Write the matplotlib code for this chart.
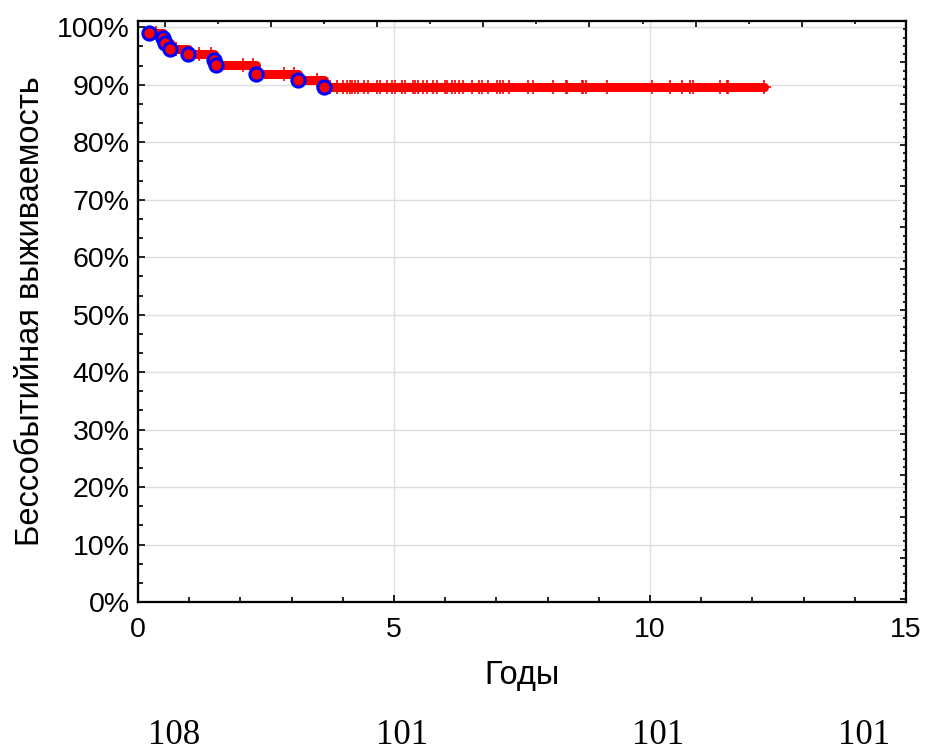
import numpy as np
import matplotlib
matplotlib.use("Agg")
import matplotlib.pyplot as plt
from matplotlib.ticker import MultipleLocator, FuncFormatter

# events (years, survival %)
event_years = [0.22, 0.49, 0.53, 0.62, 0.98, 1.48, 1.53, 2.30, 3.12, 3.63]
event_surv = [99.1, 98.2, 97.2, 96.2, 95.4, 94.4, 93.4, 91.9, 90.9, 89.6]

# censored observations (years)
censor_years = [
    0.35, 0.75, 1.20, 1.42, 2.05, 2.25, 2.85, 3.05, 3.50,
    3.75, 3.88, 4.01, 4.08, 4.14, 4.17, 4.24, 4.29, 4.42, 4.50,
    4.66, 4.73, 4.86, 4.97, 5.02, 5.15, 5.21, 5.38, 5.41, 5.47,
    5.57, 5.64, 5.77, 5.83, 6.00, 6.03, 6.13, 6.19, 6.26, 6.35,
    6.52, 6.65, 6.71, 6.84, 7.01, 7.07, 7.13, 7.25, 7.61, 7.72,
    8.11, 8.36, 8.38, 8.67, 8.70, 8.75, 9.15, 10.03, 10.39, 10.62,
    10.78, 10.84, 11.37, 11.50, 11.53, 12.23,
]
last_year = 12.23

# number at risk shown under the plot
risk_years = [0, 5, 10, 15]
risk_counts = ["108", "101", "101", "101"]

plt.rcParams["font.family"] = ["Liberation Sans", "DejaVu Sans"]

fig = plt.figure(figsize=(9.25, 7.53), dpi=100)
ax = fig.add_axes([0.1492, 0.2005, 0.8303, 0.7716])

line_x = event_years + [last_year]
line_y = event_surv + [event_surv[-1]]
ax.plot(line_x, line_y, drawstyle="steps-post", color="red", lw=6.5,
        solid_joinstyle="round", solid_capstyle="round", zorder=3)

# survival value at each censored time
idx = np.searchsorted(event_years, censor_years, side="right") - 1
cens_y = [event_surv[i] if i >= 0 else 100 for i in idx]
ax.plot(censor_years, cens_y, ls="none", marker="+", ms=10, mew=1.2,
        color="red", zorder=4)
ax.plot(event_years, event_surv, ls="none", marker="+", ms=10, mew=1.2,
        color="red", zorder=4)
ax.plot(event_years, event_surv, ls="none", marker="o", ms=9.5, mew=2.2,
        mfc="red", mec="blue", zorder=5)

ax.set_xlim(0, 15)
ax.set_ylim(0, 101.1)
ax.xaxis.set_major_locator(MultipleLocator(5))
ax.xaxis.set_minor_locator(MultipleLocator(1))
ax.yaxis.set_major_locator(MultipleLocator(10))
ax.yaxis.set_minor_locator(MultipleLocator(10 / 3))
ax.yaxis.set_major_formatter(FuncFormatter(lambda v, p: f"{v:.0f}%"))
ax.grid(True, which="major", color="#dedede", lw=1.0)
ax.set_axisbelow(True)
ax.tick_params(which="both", direction="in", colors="black", labelsize=20.5,
               width=1.2)
ax.tick_params(which="major", length=5)
ax.tick_params(which="minor", length=3.5)
ax.tick_params(axis="x", pad=11)
ax.tick_params(axis="y", pad=6)
for s in ax.spines.values():
    s.set_linewidth(1.5)

ax.set_xlabel("Годы", fontsize=23.5, labelpad=12)
ax.set_ylabel("Бессобытийная выживаемость", fontsize=23.5, labelpad=8)

# extra tick-only axes on top and right
top = ax.twiny()
top.set_xlim(0, 14.46)
top.xaxis.set_major_locator(MultipleLocator(2, offset=0.5))
top.xaxis.set_minor_locator(MultipleLocator(1, offset=0.5))
top.tick_params(which="both", direction="in", labeltop=False, width=1.2)
top.tick_params(which="major", length=4)
top.tick_params(which="minor", length=2.5)

right = ax.twinx()
right.set_ylim(-0.07, 14)
right.yaxis.set_major_locator(MultipleLocator(1))
right.yaxis.set_minor_locator(MultipleLocator(0.2))
right.tick_params(which="both", direction="in", labelright=False, width=1.2)
right.tick_params(which="major", length=4)
right.tick_params(which="minor", length=2)
for a in (top, right):
    for s in a.spines.values():
        s.set_linewidth(1.5)

risk_x = [174, 402, 658, 864]
for xp, txt in zip(risk_x, risk_counts):
    fig.text(xp / 925, 1 - 735 / 753, txt, ha="center", va="center",
             fontsize=25, family=["Liberation Serif", "DejaVu Serif"])

fig.savefig("out.png", dpi=100)
